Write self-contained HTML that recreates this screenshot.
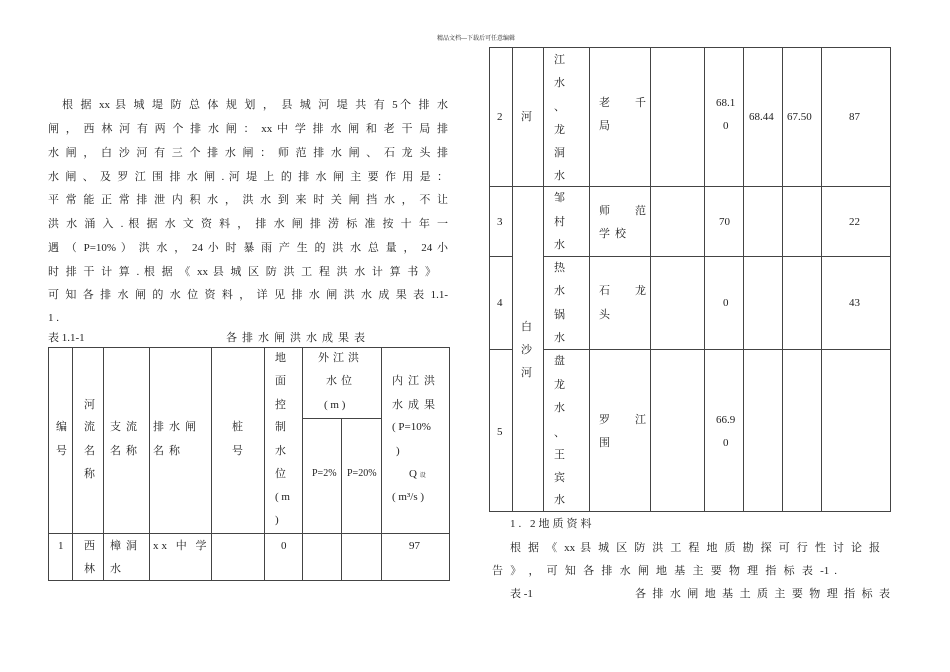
<!DOCTYPE html>
<html><head><meta charset="utf-8"><style>
body{margin:0;background:#fff;}
#p{position:relative;width:950px;height:672px;overflow:hidden;background:#fff;font-family:"Liberation Serif","Noto Serif CJK SC","Noto Sans CJK SC",serif;color:#222;font-size:11px;}
.t{position:absolute;line-height:14px;white-space:nowrap;}
.j{position:absolute;line-height:14px;text-align:justify;text-align-last:justify;white-space:nowrap;}
.h{position:absolute;background:#444;height:1px;}
.v{position:absolute;background:#444;width:1px;}
</style></head><body><div id="p">
<div class="t" style="left:437px;top:35px;font-size:6px;line-height:8px">精品文档---下载后可任意编辑</div>

<div class="j" style="left:62px;top:98px;width:386px">根 据 xx 县 城 堤 防 总 体 规 划 ， 县 城 河 堤 共 有 5个 排 水</div>
<div class="j" style="left:48px;top:122px;width:400px">闸 ， 西 林 河 有 两 个 排 水 闸 ： xx 中 学 排 水 闸 和 老 干 局 排</div>
<div class="j" style="left:48px;top:146px;width:400px">水 闸 ， 白 沙 河 有 三 个 排 水 闸 ： 师 范 排 水 闸 、 石 龙 头 排</div>
<div class="j" style="left:48px;top:170px;width:400px">水 闸 、 及 罗 江 围 排 水 闸 . 河 堤 上 的 排 水 闸 主 要 作 用 是 ：</div>
<div class="j" style="left:48px;top:193px;width:400px">平 常 能 正 常 排 泄 内 积 水 ， 洪 水 到 来 时 关 闸 挡 水 ， 不 让</div>
<div class="j" style="left:48px;top:217px;width:400px">洪 水 涌 入 . 根 据 水 文 资 料 ， 排 水 闸 排 涝 标 准 按 十 年 一</div>
<div class="j" style="left:48px;top:241px;width:400px">遇 （ P=10% ） 洪 水 ， 24 小 时 暴 雨 产 生 的 洪 水 总 量 ， 24 小</div>
<div class="j" style="left:48px;top:265px;width:388px">时 排 干 计 算 . 根 据 《 xx 县 城 区 防 洪 工 程 洪 水 计 算 书 》</div>
<div class="j" style="left:48px;top:288px;width:400px">可 知 各 排 水 闸 的 水 位 资 料 ， 详 见 排 水 闸 洪 水 成 果 表 1.1-</div>
<div class="t" style="left:48px;top:311px">1 .</div>
<div class="t" style="left:48px;top:331px">表 1.1-1</div>
<div class="t" style="left:226px;top:331px;letter-spacing:5px">各排水闸洪水成果表</div>

<!-- left table lines -->
<div class="h" style="left:48px;top:347px;width:402px"></div>
<div class="h" style="left:302px;top:418px;width:79px"></div>
<div class="h" style="left:48px;top:533px;width:402px"></div>
<div class="h" style="left:48px;top:580px;width:402px"></div>
<div class="v" style="left:48px;top:347px;height:234px"></div>
<div class="v" style="left:72px;top:347px;height:234px"></div>
<div class="v" style="left:103px;top:347px;height:234px"></div>
<div class="v" style="left:149px;top:347px;height:234px"></div>
<div class="v" style="left:211px;top:347px;height:234px"></div>
<div class="v" style="left:264px;top:347px;height:234px"></div>
<div class="v" style="left:302px;top:347px;height:234px"></div>
<div class="v" style="left:341px;top:418px;height:163px"></div>
<div class="v" style="left:381px;top:347px;height:234px"></div>
<div class="v" style="left:449px;top:347px;height:234px"></div>

<div class="t" style="left:56px;top:420px">编</div><div class="t" style="left:56px;top:444px">号</div>
<div class="t" style="left:84px;top:398px">河</div><div class="t" style="left:84px;top:420px">流</div><div class="t" style="left:84px;top:444px">名</div><div class="t" style="left:84px;top:467px">称</div>
<div class="t" style="left:110px;top:420px;letter-spacing:5px">支流</div><div class="t" style="left:110px;top:444px;letter-spacing:5px">名称</div>
<div class="t" style="left:153px;top:420px;letter-spacing:5px">排水闸</div><div class="t" style="left:153px;top:444px;letter-spacing:5px">名称</div>
<div class="t" style="left:232px;top:420px">桩</div><div class="t" style="left:232px;top:444px">号</div>
<div class="t" style="left:275px;top:351px">地</div><div class="t" style="left:275px;top:374px">面</div><div class="t" style="left:275px;top:398px">控</div><div class="t" style="left:275px;top:420px">制</div><div class="t" style="left:275px;top:444px">水</div><div class="t" style="left:275px;top:467px">位</div><div class="t" style="left:275px;top:490px">( m</div><div class="t" style="left:275px;top:513px">)</div>
<div class="t" style="left:318px;top:351px;letter-spacing:4px">外江洪</div><div class="t" style="left:326px;top:374px;letter-spacing:4px">水位</div><div class="t" style="left:324px;top:398px">( m )</div>
<div class="t" style="left:312px;top:467px;font-size:10px">P=2%</div><div class="t" style="left:347px;top:467px;font-size:10px">P=20%</div>
<div class="t" style="left:392px;top:374px;letter-spacing:5px">内江洪</div><div class="t" style="left:392px;top:398px;letter-spacing:5px">水成果</div><div class="t" style="left:392px;top:420px">( P=10%</div><div class="t" style="left:396px;top:444px">)</div><div class="t" style="left:409px;top:467px">Q <span style="font-size:6px">设</span></div><div class="t" style="left:392px;top:490px">( m³/s )</div>
<div class="t" style="left:58px;top:539px">1</div>
<div class="t" style="left:84px;top:539px">西</div><div class="t" style="left:84px;top:562px">林</div>
<div class="t" style="left:110px;top:539px;letter-spacing:5px">樟洞</div><div class="t" style="left:110px;top:562px">水</div>
<div class="t" style="left:153px;top:539px;letter-spacing:3px">xx 中 学</div>
<div class="t" style="left:281px;top:539px">0</div>
<div class="t" style="left:409px;top:539px">97</div>

<!-- right table -->
<div class="h" style="left:489px;top:47px;width:402px"></div>
<div class="h" style="left:489px;top:186px;width:402px"></div>
<div class="h" style="left:489px;top:256px;width:23px"></div><div class="h" style="left:543px;top:256px;width:348px"></div>
<div class="h" style="left:489px;top:349px;width:23px"></div><div class="h" style="left:543px;top:349px;width:348px"></div>
<div class="h" style="left:489px;top:511px;width:402px"></div>
<div class="v" style="left:489px;top:47px;height:465px"></div>
<div class="v" style="left:512px;top:47px;height:465px"></div>
<div class="v" style="left:543px;top:47px;height:465px"></div>
<div class="v" style="left:589px;top:47px;height:465px"></div>
<div class="v" style="left:650px;top:47px;height:465px"></div>
<div class="v" style="left:704px;top:47px;height:465px"></div>
<div class="v" style="left:743px;top:47px;height:465px"></div>
<div class="v" style="left:782px;top:47px;height:465px"></div>
<div class="v" style="left:821px;top:47px;height:465px"></div>
<div class="v" style="left:890px;top:47px;height:465px"></div>

<div class="t" style="left:497px;top:110px">2</div><div class="t" style="left:521px;top:110px">河</div>
<div class="t" style="left:554px;top:53px">江</div><div class="t" style="left:554px;top:76px">水</div><div class="t" style="left:554px;top:100px">、</div><div class="t" style="left:554px;top:123px">龙</div><div class="t" style="left:554px;top:146px">洞</div><div class="t" style="left:554px;top:169px">水</div>
<div class="t" style="left:599px;top:96px">老</div><div class="t" style="left:635px;top:96px">千</div><div class="t" style="left:599px;top:119px">局</div>
<div class="t" style="left:716px;top:96px">68.1</div><div class="t" style="left:723px;top:119px">0</div>
<div class="t" style="left:749px;top:110px">68.44</div><div class="t" style="left:787px;top:110px">67.50</div><div class="t" style="left:849px;top:110px">87</div>

<div class="t" style="left:497px;top:215px">3</div>
<div class="t" style="left:554px;top:191px">邹</div><div class="t" style="left:554px;top:215px">村</div><div class="t" style="left:554px;top:238px">水</div>
<div class="t" style="left:599px;top:204px">师</div><div class="t" style="left:635px;top:204px">范</div><div class="t" style="left:599px;top:227px;letter-spacing:5px">学校</div>
<div class="t" style="left:719px;top:215px">70</div><div class="t" style="left:849px;top:215px">22</div>

<div class="t" style="left:497px;top:296px">4</div>
<div class="t" style="left:554px;top:261px">热</div><div class="t" style="left:554px;top:284px">水</div><div class="t" style="left:554px;top:308px">锅</div><div class="t" style="left:554px;top:331px">水</div>
<div class="t" style="left:599px;top:284px">石</div><div class="t" style="left:635px;top:284px">龙</div><div class="t" style="left:599px;top:308px">头</div>
<div class="t" style="left:723px;top:296px">0</div><div class="t" style="left:849px;top:296px">43</div>
<div class="t" style="left:521px;top:320px">白</div><div class="t" style="left:521px;top:343px">沙</div><div class="t" style="left:521px;top:366px">河</div>

<div class="t" style="left:497px;top:425px">5</div>
<div class="t" style="left:554px;top:354px">盘</div><div class="t" style="left:554px;top:378px">龙</div><div class="t" style="left:554px;top:401px">水</div><div class="t" style="left:554px;top:426px">、</div><div class="t" style="left:554px;top:448px">王</div><div class="t" style="left:554px;top:471px">宾</div><div class="t" style="left:554px;top:493px">水</div>
<div class="t" style="left:599px;top:413px">罗</div><div class="t" style="left:635px;top:413px">江</div><div class="t" style="left:599px;top:436px">围</div>
<div class="t" style="left:716px;top:413px">66.9</div><div class="t" style="left:723px;top:436px">0</div>

<div class="t" style="left:510px;top:517px;letter-spacing:3px">1. 2地质资料</div>
<div class="j" style="left:510px;top:541px;width:370px">根 据 《 xx 县 城 区 防 洪 工 程 地 质 勘 探 可 行 性 讨 论 报</div>
<div class="j" style="left:492px;top:564px;width:345px">告 》 ， 可 知 各 排 水 闸 地 基 主 要 物 理 指 标 表 -1 .</div>
<div class="t" style="left:510px;top:587px">表 -1</div>
<div class="j" style="left:635px;top:587px;width:255px">各 排 水 闸 地 基 土 质 主 要 物 理 指 标 表</div>
</div></body></html>
